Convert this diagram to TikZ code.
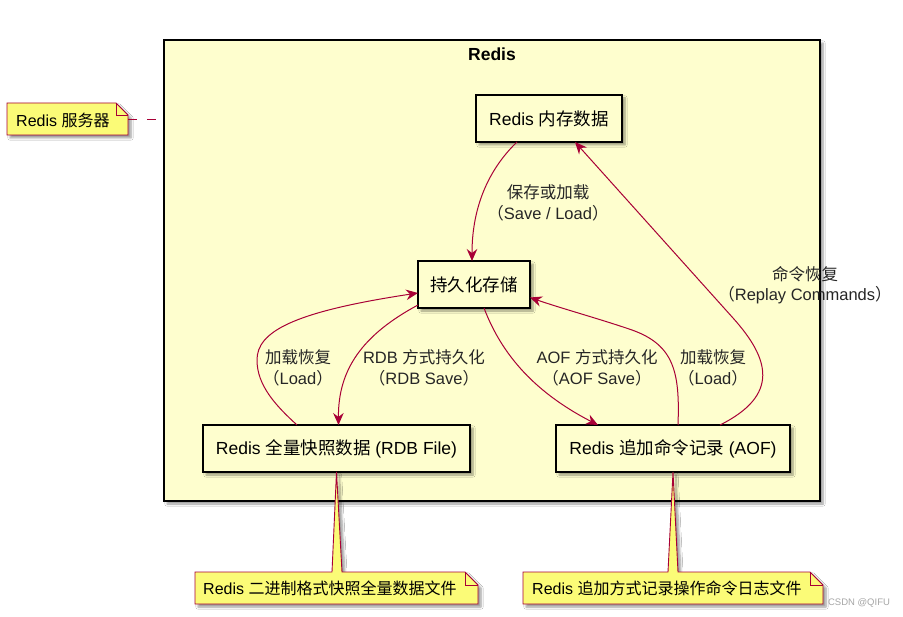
\documentclass[tikz,border=0pt]{standalone}
\usepackage{fontspec}
\setmainfont{Liberation Sans}
\newfontfamily\cjk{Noto Sans CJK SC}
\usetikzlibrary{shadows.blur,arrows.meta}
\definecolor{pubg}{HTML}{FEFECE}
\definecolor{notey}{HTML}{FBFB77}
\definecolor{pured}{HTML}{A80036}
\tikzset{
 shad/.style={blur shadow={shadow xshift=3pt,shadow yshift=-3pt,shadow blur steps=6,shadow opacity=40}},
 frame/.style={draw=black, line width=1.5pt, fill=pubg, inner sep=0pt, outer sep=0pt, shad},
 box/.style={draw=black, line width=1.5pt, fill=pubg, inner sep=0pt, outer sep=0pt, minimum height=47pt, font=\fontsize{17.5}{20}\selectfont, shad},
 edge/.style={draw=pured, line width=1pt, -{Stealth[length=12pt,width=10.5pt,inset=4pt]}},
 elabel/.style={font=\fontsize{16.5}{20.5}\selectfont, align=center, text=black!85, inner sep=0pt},
 notebody/.style={draw=pured, line width=0.9pt, fill=notey, line join=miter, shad},
 notefold/.style={draw=pured, line width=0.9pt},
 notetext/.style={font=\fontsize{16}{18}\selectfont, anchor=west, inner sep=0pt},
 notelink/.style={draw=pured, line width=1pt, dash pattern=on 9pt off 10pt},
}
\begin{document}
\begin{tikzpicture}[x=1pt,y=-1pt]
\useasboundingbox[fill=white] (0,0) rectangle (903,617);
% frame
\node[frame, minimum width=656pt, minimum height=461pt] (redis) at (492,270.5) {};
\node[font=\bfseries\fontsize{17.5}{20}\selectfont, inner sep=0pt] (title) at (492,54) {Redis};

% note: server
\path[notebody] (7,103) -- (116,103) -- (128,115) -- (128,135) -- (7,135) -- cycle;
\path[notefold] (116,103) -- (116,115) -- (128,115);
\node[notetext] (n1) at (16,120) {Redis {\cjk 服务器}};
\coordinate (n1e) at (128,120);
\path[notelink] (n1e) -- (n1e -| redis.west);

% nodes
\node[box, minimum width=146pt] (mem) at (549,118.5) {Redis {\cjk 内存数据}};
\node[box, minimum width=112pt] (per) at (474,284.5) {\cjk 持久化存储};
\node[box, minimum width=267pt] (rdb) at (336.5,448.5) {Redis {\cjk 全量快照数据} (RDB File)};
\node[box, minimum width=234pt] (aof) at (673,448.5) {Redis {\cjk 追加命令记录} (AOF)};

% notes for files
\path[notebody] (195,572) -- (332,572) -- (rdb.south) -- (342,572) -- (465,572) -- (478,585) -- (478,604) -- (195,604) -- cycle;
\path[notefold] (465,572) -- (465,585) -- (478,585);
\node[notetext] (n2) at (203,588) {Redis {\cjk 二进制格式快照全量数据文件}};

\path[notebody] (523,572) -- (668,572) -- (aof.south) -- (678,572) -- (810,572) -- (823,585) -- (823,604) -- (523,604) -- cycle;
\path[notefold] (810,572) -- (810,585) -- (823,585);
\node[notetext] (n3) at (532,588) {Redis {\cjk 追加方式记录操作命令日志文件}};

% edges
\draw[edge] ([xshift=-32pt]mem.south) .. controls (490,168) and (472,205) .. ([xshift=-2pt]per.north);
\draw[edge] ([yshift=3pt]per.south west) .. controls (362,335) and (338,370) .. ([xshift=2pt]rdb.north);
\draw[edge] ([xshift=-39.5pt]rdb.north) .. controls (275,405) and (257,385) .. (257,360)
   .. controls (257,332) and (292,312) .. ([yshift=-8.5pt]per.west);
\draw[edge] ([xshift=10pt]per.south) .. controls (500,350) and (530,390) .. ([xshift=-75pt]aof.north);
\draw[edge] ([xshift=5pt]aof.north) .. controls (680,372) and (674,345) .. (632,330)
   .. controls (600,319) and (560,308) .. ([yshift=-13pt]per.east);
\draw[edge] ([xshift=47pt]aof.north) .. controls (780,395) and (769.7,358.9) .. (733,318) -- ([xshift=26pt]mem.south);

% labels
\node[elabel] (l1) at (548,203) {{\cjk 保存或加载}\\{\cjk （}Save / Load{\cjk ）}};
\node[elabel] (l2) at (298,368) {{\cjk 加载恢复}\\{\cjk （}Load{\cjk ）}};
\node[elabel] (l3) at (424,368) {RDB {\cjk 方式持久化}\\{\cjk （}RDB Save{\cjk ）}};
\node[elabel] (l4) at (597,368) {AOF {\cjk 方式持久化}\\{\cjk （}AOF Save{\cjk ）}};
\node[elabel] (l5) at (713,368) {{\cjk 加载恢复}\\{\cjk （}Load{\cjk ）}};
\node[elabel] (l6) at (805,285) {{\cjk 命令恢复}\\{\cjk （}Replay Commands{\cjk ）}};

\node[font=\fontsize{9.5}{10}\selectfont, text=gray!70, inner sep=0pt] (wm) at (859,603) {CSDN @QIFU};
\end{tikzpicture}
\end{document}
